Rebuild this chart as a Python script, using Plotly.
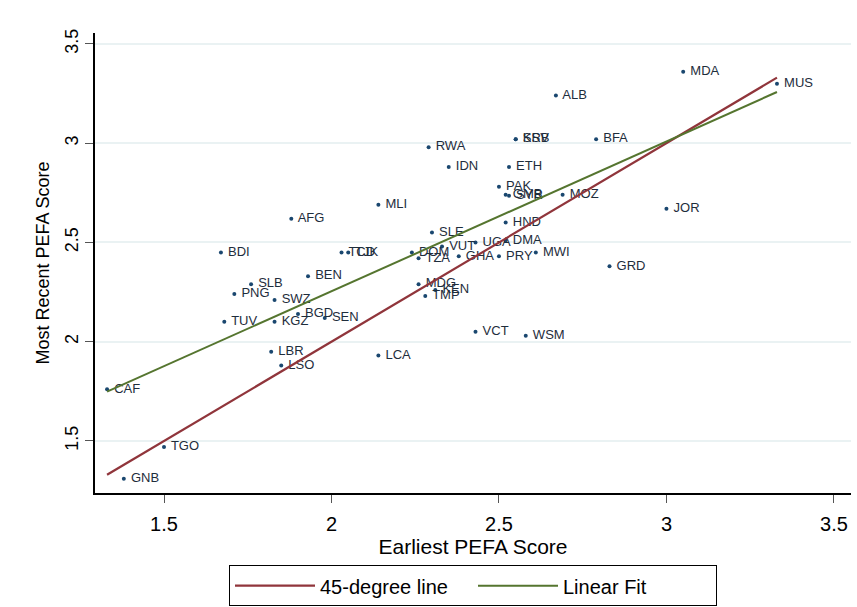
import numpy as np
import plotly.graph_objects as go

countries = ["MDA", "MUS", "ALB", "KSV", "SRB", "BFA", "RWA", "IDN", "ETH", "PAK",
             "GMB", "SYR", "MOZ", "JOR", "MLI", "AFG", "HND", "SLE", "VUT", "UGA",
             "DMA", "DOM", "TZA", "GHA", "PRY", "MWI", "GRD", "MDG", "TMP", "KEN",
             "VCT", "WSM", "LCA", "BDI", "TCD", "TJK", "BEN", "SLB", "PNG", "SWZ",
             "BGD", "SEN", "TUV", "KGZ", "LBR", "LSO", "CAF", "TGO", "GNB"]
earliest = [3.05, 3.33, 2.67, 2.55, 2.55, 2.79, 2.29, 2.35, 2.53, 2.50,
            2.52, 2.53, 2.69, 3.00, 2.14, 1.88, 2.52, 2.30, 2.33, 2.43,
            2.52, 2.24, 2.26, 2.38, 2.50, 2.61, 2.83, 2.26, 2.28, 2.31,
            2.43, 2.58, 2.14, 1.67, 2.03, 2.05, 1.93, 1.76, 1.71, 1.83,
            1.90, 1.98, 1.68, 1.83, 1.82, 1.85, 1.33, 1.50, 1.38]
recent = [3.36, 3.30, 3.24, 3.02, 3.02, 3.02, 2.98, 2.88, 2.88, 2.78,
          2.74, 2.735, 2.74, 2.67, 2.69, 2.62, 2.60, 2.55, 2.48, 2.50,
          2.51, 2.45, 2.42, 2.43, 2.43, 2.45, 2.38, 2.29, 2.23, 2.26,
          2.05, 2.03, 1.93, 2.45, 2.45, 2.45, 2.33, 2.29, 2.24, 2.21,
          2.14, 2.12, 2.10, 2.10, 1.95, 1.88, 1.76, 1.47, 1.31]

x_ticks = [1.5, 2, 2.5, 3, 3.5]
y_ticks = [1.5, 2, 2.5, 3, 3.5]

xa = np.array(earliest)
ya = np.array(recent)
xmin, xmax = xa.min(), xa.max()
slope, intercept = np.polyfit(xa, ya, 1)
line_x = [xmin, xmax]

MARKER = "#1a476f"
RED = "#90353b"
GREEN = "#55752f"
FONT = "Liberation Sans, Arial, sans-serif"

fig = go.Figure()
fig.add_trace(go.Scatter(
    x=earliest, y=recent, mode="markers+text", text=[" " + c for c in countries],
    textposition="middle right",
    marker=dict(color=MARKER, size=4, symbol="circle"),
    textfont=dict(family=FONT, size=13, color="#1e2d3c"),
    showlegend=False, hoverinfo="text"))
fig.add_trace(go.Scatter(
    x=line_x, y=line_x, mode="lines", name="45-degree line",
    line=dict(color=RED, width=2.2)))
fig.add_trace(go.Scatter(
    x=line_x, y=[intercept + slope * v for v in line_x], mode="lines",
    name="Linear Fit", line=dict(color=GREEN, width=2)))

axis_font = dict(family=FONT, size=18, color="#000000")
xtitle_font = dict(family=FONT, size=21, color="#000000")
fig.update_layout(
    width=857, height=607,
    margin=dict(l=95, r=6, t=33, b=114, autoexpand=False),
    paper_bgcolor="white", plot_bgcolor="white",
    font=dict(family=FONT, color="#000000"),
    xaxis=dict(range=[1.294, 3.551], tickvals=x_ticks, ticktext=[str(v) for v in x_ticks],
               showgrid=False, zeroline=False, showline=True, linecolor="#000000",
               linewidth=1.5, ticks="outside", ticklen=8, tickcolor="#555555",
               tickfont=dict(family=FONT, size=20, color="#000000"), ticklabelstandoff=4,
               title=dict(text="Earliest PEFA Score", font=xtitle_font, standoff=2)),
    yaxis=dict(range=[1.238, 3.555], tickvals=y_ticks, ticktext=[str(v) for v in y_ticks],
               showgrid=True, gridcolor="#eaf2f3", gridwidth=2, zeroline=False,
               showline=True, linecolor="#000000", linewidth=1.5,
               ticks="outside", ticklen=8, tickcolor="#555555", tickangle=-90,
               tickfont=axis_font,
               title=dict(text="Most Recent PEFA Score", font=axis_font, standoff=8)),
    legend=dict(orientation="h", x=0.5, xanchor="center", y=-0.157, yanchor="top",
                bordercolor="#000000", borderwidth=1, bgcolor="white",
                font=dict(family=FONT, size=20),
                itemwidth=80, entrywidth=148, tracegroupgap=0),
)

fig.write_html("out.html")
